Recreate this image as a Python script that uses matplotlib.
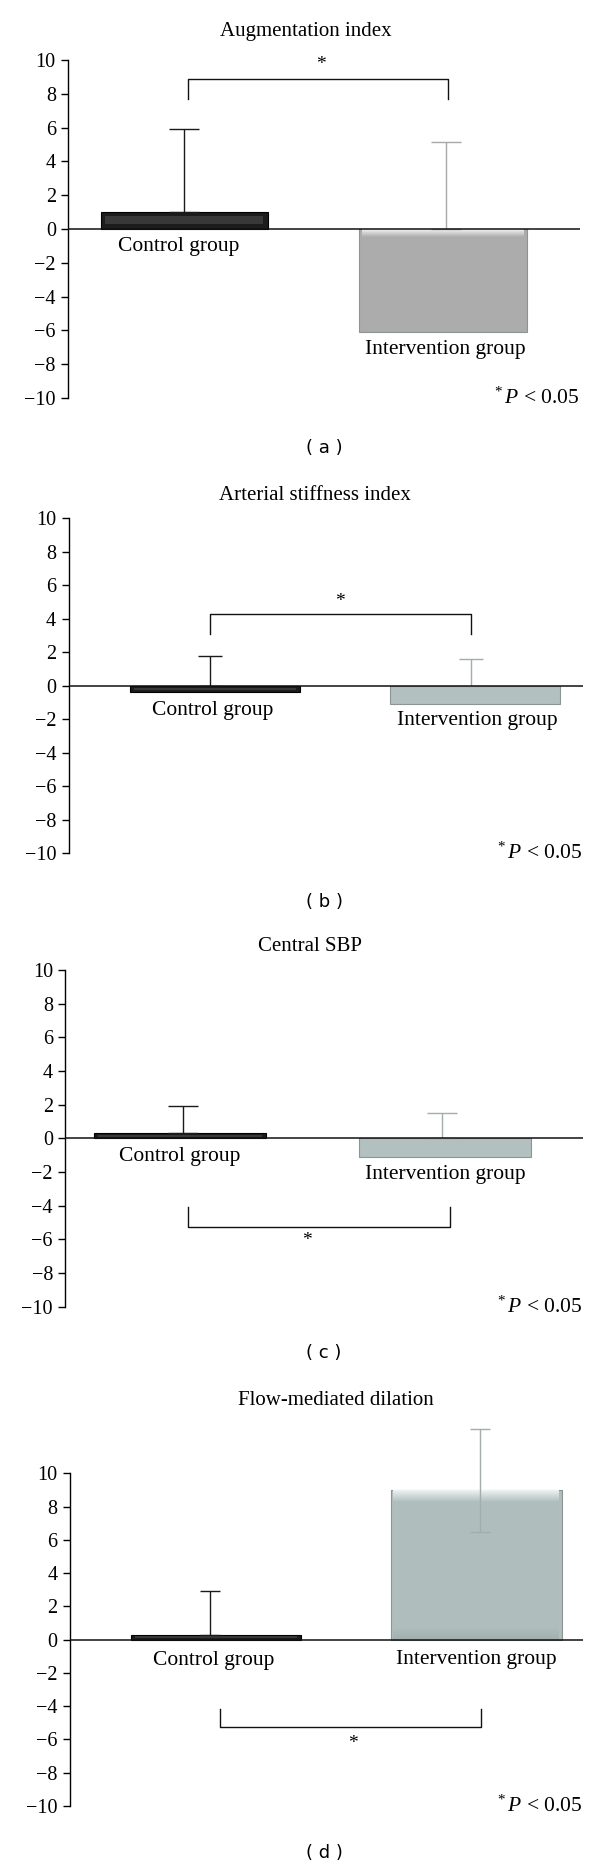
import matplotlib
matplotlib.use('Agg')
import matplotlib.pyplot as plt
import numpy as np
from matplotlib.colors import LinearSegmentedColormap

plt.rcParams['font.family'] = ['Liberation Serif', 'DejaVu Serif']
plt.rcParams['mathtext.fontset'] = 'custom'
plt.rcParams['mathtext.rm'] = 'Liberation Serif'
plt.rcParams['mathtext.it'] = 'Liberation Serif:italic'

# ---- data ----
titles = ['Augmentation index', 'Arterial stiffness index', 'Central SBP', 'Flow-mediated dilation']
panel_tags = ['( a )', '( b )', '( c )', '( d )']
groups = ['Control group', 'Intervention group']
control_mean = [1.0, -0.35, 0.3, 0.3]
control_err_lo = [1.0, 0.0, 0.3, 0.3]
control_err_hi = [5.9, 1.75, 1.9, 2.9]
interv_mean = [-6.1, -1.1, -1.1, 9.0]
interv_err_lo = [0.0, 0.0, 0.0, 6.5]
interv_err_hi = [5.15, 1.6, 1.5, 12.65]
bracket_y = [8.9, 4.3, -5.25, -5.26]
bracket_leg = [7.7, 3.1, -4.1, -4.15]
star_y = [9.74, 5.03, -6.08, -6.25]
yticks = [-10, -8, -6, -4, -2, 0, 2, 4, 6, 8, 10]

# ---- layout (pixels in a 600 x 1869 canvas) ----
W, H = 600, 1869
axes_px = [(68.3, 580, 60, 398), (68.5, 582.7, 518.3, 853.3),
           (65.4, 582.7, 970, 1306.7), (70, 582.7, 1473.3, 1806)]
xlims = [(-0.447, 1.529), (-0.563, 1.414), (-0.432, 1.52), (-0.5615, 1.41)]
bar_w = [0.645, 0.654, 0.65, 0.657]
err_dx = [(0.0, 0.01), (-0.02, -0.015), (0.01, -0.01), (-0.023, 0.015)]
cap_pt = [10.8, 8.5, 10.8, 7.0]
brk_x = [(0.015, 1.018), (-0.02, 0.985), (0.03, 1.02), (0.017, 1.02)]
star_x = [0.527, 0.48, 0.48, 0.527]
lab_pos = [((-0.02, -1.03), (1.01, -7.15)), ((-0.01, -1.47), (1.01, -2.09)),
           ((0.0, -1.09), (1.0, -2.12)), ((-0.01, -1.25), (1.0, -1.2))]
title_px = [(306, 31.7), (315, 495), (309.6, 946.7), (335.8, 1400)]
tag_y = [448, 901.7, 1353.3, 1853.3]
interv_color = ['#acacac', '#b3c0c0', '#b3c0c0', '#afbebd']
interv_err_color = ['#a8a8a8', '#a3adad', '#a3adad', '#a3adad']

fig = plt.figure(figsize=(W / 100, H / 100), dpi=100)


def gradient_band(ax, x0, x1, y0, y1, c0, c1):
    cmap = LinearSegmentedColormap.from_list('g', [c0, c1])
    grad = np.linspace(0, 1, 50).reshape(-1, 1)
    ax.imshow(grad, extent=[x0, x1, y0, y1], cmap=cmap, aspect='auto',
              origin='lower', zorder=2.5, interpolation='bilinear')


for i in range(4):
    l, r, t, b = axes_px[i]
    ax = fig.add_axes([l / W, 1 - b / H, (r - l) / W, (b - t) / H])
    ax.set_xlim(*xlims[i])
    ax.set_ylim(-10, 10)
    for s in ['top', 'right', 'bottom']:
        ax.spines[s].set_visible(False)
    ax.spines['left'].set_linewidth(1.0)
    ax.set_xticks([])
    ax.set_yticks(yticks)
    ax.set_yticklabels([str(v).replace('-', '\u2212') for v in yticks])
    ax.tick_params(axis='y', length=5, width=1.0, pad=4, labelsize=14.5)
    ax.axhline(0, color='#111111', lw=1.1, zorder=4)

    w = bar_w[i]
    # control bar (dark, bevelled)
    cm = control_mean[i]
    ax.bar(0, cm, width=w, color='#1c1c1c', edgecolor='black', lw=0.8, zorder=2)
    ax.bar(0, cm * 0.45, bottom=cm * 0.3, width=w * 0.95, color='#383838', lw=0, zorder=2.2)

    # intervention bar with light bevel on the far edge
    im = interv_mean[i]
    ax.bar(1, im, width=w, color=interv_color[i], edgecolor='#8c9494', lw=0.8, zorder=2)
    band = 0.08 * abs(im) if abs(im) > 2 else 0.0
    if band > 0:
        if im < 0:
            gradient_band(ax, 1 - w / 2 + 0.01, 1 + w / 2 - 0.01, -band, -0.03,
                          interv_color[i], '#f4f4f4')
        else:
            gradient_band(ax, 1 - w / 2 + 0.01, 1 + w / 2 - 0.01, im - band, im - 0.03,
                          interv_color[i], '#eef2f2')
            gradient_band(ax, 1 - w / 2 + 0.01, 1 + w / 2 - 0.01, 0.03, band,
                          '#a3b0b0', interv_color[i])
    ax.set_xlim(*xlims[i])
    ax.set_ylim(-10, 10)

    # error bars
    dx0, dx1 = err_dx[i]
    ax.errorbar(0 + dx0, control_err_hi[i], yerr=[[control_err_hi[i] - control_err_lo[i]], [0]],
                fmt='none', ecolor='#1a1a1a', elinewidth=1.0, capsize=cap_pt[i], capthick=1.0,
                zorder=3, clip_on=False)
    ax.errorbar(1 + dx1, interv_err_hi[i], yerr=[[interv_err_hi[i] - interv_err_lo[i]], [0]],
                fmt='none', ecolor=interv_err_color[i], elinewidth=1.0, capsize=cap_pt[i],
                capthick=1.0, zorder=3, clip_on=False)

    # significance bracket
    bx0, bx1 = brk_x[i]
    ax.plot([bx0, bx0, bx1, bx1], [bracket_leg[i], bracket_y[i], bracket_y[i], bracket_leg[i]],
            color='#111111', lw=1.0, clip_on=False)
    ax.text(star_x[i], star_y[i], '*', ha='center', va='center', fontsize=14)

    # group labels
    for g, (lx, ly) in zip(groups, lab_pos[i]):
        ax.text(lx, ly, g, ha='center', va='center', fontsize=15.5, zorder=5)

    # p-value note
    ax.text(1.0, -10, r'$^{*}\,P$ < 0.05', transform=ax.get_yaxis_transform(),
            ha='right', va='center', fontsize=15.5)

    fig.text(title_px[i][0] / W, 1 - title_px[i][1] / H, titles[i],
             ha='center', va='center', fontsize=15)
    fig.text(324 / W, 1 - tag_y[i] / H, panel_tags[i], ha='center', va='center',
             fontsize=13, family='DejaVu Sans')

fig.savefig('out.png', dpi=100)
